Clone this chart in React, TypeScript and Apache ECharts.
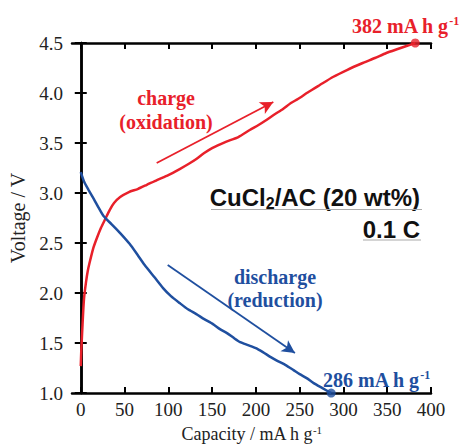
import React, { useEffect, useRef } from "react";
import * as echarts from "echarts";

// ---- data ----
const CHARGE_CAP = [0, 0.5, 1, 2, 3, 4, 6, 8, 10, 14, 18, 23, 28, 33, 38, 45, 55, 65, 75, 87, 100, 113, 123, 132, 141, 150, 165, 180, 193, 203, 212, 222, 231, 240, 248, 260, 273, 288, 304, 322, 336, 349, 362, 372, 382];
const CHARGE_V = [1.27, 1.4, 1.5, 1.68, 1.85, 1.97, 2.11, 2.22, 2.3, 2.44, 2.54, 2.65, 2.74, 2.83, 2.9, 2.96, 3.01, 3.04, 3.08, 3.13, 3.18, 3.24, 3.29, 3.34, 3.4, 3.45, 3.51, 3.56, 3.63, 3.68, 3.73, 3.79, 3.84, 3.9, 3.94, 4.01, 4.08, 4.16, 4.23, 4.3, 4.35, 4.4, 4.44, 4.47, 4.5];
const DISCHARGE_CAP = [0, 4, 9, 15, 20, 26, 35, 45, 56, 65, 73, 84, 94, 103, 113, 122, 132, 141, 151, 159, 167, 175, 182, 191, 200, 208, 217, 225, 234, 243, 250, 258, 266, 276, 286];
const DISCHARGE_V = [3.21, 3.11, 3.03, 2.94, 2.86, 2.77, 2.69, 2.6, 2.49, 2.38, 2.28, 2.16, 2.05, 1.97, 1.9, 1.84, 1.79, 1.74, 1.69, 1.64, 1.6, 1.55, 1.51, 1.48, 1.45, 1.41, 1.36, 1.32, 1.28, 1.23, 1.19, 1.15, 1.1, 1.05, 1.0];
const X_TICKS = [0, 50, 100, 150, 200, 250, 300, 350, 400];
const Y_TICKS = [1.0, 1.5, 2.0, 2.5, 3.0, 3.5, 4.0, 4.5];
const CHARGE_ARROW = [[86.7, 3.3], [219.9, 3.91]];
const DISCHARGE_ARROW = [[99.3, 2.28], [244.6, 1.4]];

const RED = "#e8202a";
const BLUE = "#1f4f9f";
const SERIF = "'Liberation Serif', 'Times New Roman', serif";
const SANS = "'Liberation Sans', Arial, sans-serif";

function capLabel(x: number, y: number, value: string, color: string) {
  return {
    type: "text", x, y,
    style: {
      text: `{a|${value}}{s|-1}`, align: "left", verticalAlign: "middle",
      rich: {
        a: { fontFamily: SERIF, fontSize: 20, fontWeight: "bold", fill: color, lineHeight: 22 },
        s: { fontFamily: SERIF, fontSize: 12, fontWeight: "bold", fill: color, lineHeight: 12, verticalAlign: "top" },
      },
    },
  };
}

function twoLine(x: number, y: number, l1: string, l2: string, color: string, lh: number) {
  return {
    type: "text", x, y,
    style: {
      text: `{a|${l1}}\n{a|${l2}}`, align: "center", verticalAlign: "middle",
      rich: { a: { fontFamily: SERIF, fontSize: 20, fontWeight: "bold", fill: color, lineHeight: lh, align: "center" } },
    },
  };
}

export default function App() {
  const ref = useRef<HTMLDivElement>(null);
  useEffect(() => {
    if (!ref.current) return;
    const chart = echarts.init(ref.current, undefined, { renderer: "svg" });
    const charge = CHARGE_CAP.map((c, i) => [c, CHARGE_V[i]]);
    const discharge = DISCHARGE_CAP.map((c, i) => [c, DISCHARGE_V[i]]);
    const lastC = charge[charge.length - 1];
    const lastD = discharge[discharge.length - 1];

    const axisLine = { show: true, lineStyle: { color: "#000", width: 2.5 } };
    const tick = { show: true, inside: true, length: 6, lineStyle: { color: "#000", width: 2 } };
    const tickLabel = { fontFamily: SERIF, fontSize: 19, color: "#222" };

    chart.setOption({
      animation: false,
      grid: { left: 72, right: 28, top: 43, bottom: 47, containLabel: false },
      xAxis: [
        {
          type: "value", min: -10, max: 400, position: "bottom",
          axisLine, splitLine: { show: false },
          axisTick: { ...tick, customValues: X_TICKS },
          axisLabel: { ...tickLabel, margin: 7, customValues: X_TICKS, formatter: (v: number) => String(v) },
          name: "{a|Capacity / mA h g}{s|-1}",
          nameLocation: "middle", nameGap: 28,
          nameTextStyle: {
            rich: {
              a: { fontFamily: SERIF, fontSize: 18, color: "#222", lineHeight: 20 },
              s: { fontFamily: SERIF, fontSize: 11, color: "#222", lineHeight: 11, verticalAlign: "top" },
            },
          },
        },
        {
          type: "value", min: -10, max: 400, position: "top",
          axisLine, splitLine: { show: false },
          axisTick: { ...tick, customValues: X_TICKS },
          axisLabel: { show: false },
        },
      ],
      yAxis: [
        {
          type: "value", min: 1, max: 4.5, interval: 0.5, position: "left",
          axisLine, splitLine: { show: false }, axisTick: tick,
          axisLabel: { ...tickLabel, margin: 9, formatter: (v: number) => v.toFixed(1), customValues: Y_TICKS },
          name: "Voltage / V", nameLocation: "middle", nameGap: 42,
          nameTextStyle: { fontFamily: SERIF, fontSize: 20, color: "#222" },
        },
        {
          type: "value", min: 1, max: 4.5, interval: 0.5, position: "right",
          axisLine, splitLine: { show: false }, axisTick: tick,
          axisLabel: { show: false },
        },
      ],
      series: [
        {
          type: "line", data: charge, showSymbol: false, smooth: 0.2,
          lineStyle: { color: RED, width: 2.5 }, itemStyle: { color: RED },
          markLine: {
            silent: true, symbol: ["none", "arrow"], symbolSize: [10, 13],
            label: { show: false },
            lineStyle: { color: RED, width: 1.8, type: "solid" },
            data: [[{ coord: CHARGE_ARROW[0] }, { coord: CHARGE_ARROW[1] }]],
          },
        },
        {
          type: "line", data: discharge, showSymbol: false, smooth: 0.2,
          lineStyle: { color: BLUE, width: 2.5 }, itemStyle: { color: BLUE },
          markLine: {
            silent: true, symbol: ["none", "arrow"], symbolSize: [10, 13],
            label: { show: false },
            lineStyle: { color: BLUE, width: 1.8, type: "solid" },
            data: [[{ coord: DISCHARGE_ARROW[0] }, { coord: DISCHARGE_ARROW[1] }]],
          },
        },
        { type: "scatter", data: [lastC], symbolSize: 9, itemStyle: { color: RED } },
        { type: "scatter", data: [lastD], symbolSize: 9, itemStyle: { color: BLUE } },
      ],
      graphic: [
        capLabel(352, 26, "382 mA h g", RED),
        capLabel(323, 380, "286 mA h g", BLUE),
        twoLine(166, 109.5, "charge", "(oxidation)", RED, 24),
        twoLine(275, 288.5, "discharge", "(reduction)", BLUE, 23.5),
        {
          type: "text", x: 420, y: 197.7,
          style: {
            text: "{b|CuCl}{sub|2}{b|/AC (20 wt%)}", align: "right", verticalAlign: "middle",
            rich: {
              b: { fontFamily: SANS, fontSize: 24, fontWeight: "bold", fill: "#111", lineHeight: 28 },
              sub: { fontFamily: SANS, fontSize: 16, fontWeight: "bold", fill: "#111", lineHeight: 16, verticalAlign: "bottom" },
            },
          },
        },
        {
          type: "text", x: 420, y: 229,
          style: {
            text: "{b|0.1 C}", align: "right", verticalAlign: "middle",
            rich: { b: { fontFamily: SANS, fontSize: 24, fontWeight: "bold", fill: "#111", lineHeight: 28 } },
          },
        },
        { type: "line", shape: { x1: 211, y1: 209.5, x2: 422, y2: 209.5 }, style: { stroke: "#aaa", lineWidth: 1 } },
        { type: "line", shape: { x1: 363, y1: 240, x2: 421, y2: 240 }, style: { stroke: "#aaa", lineWidth: 1 } },
      ],
    });
    return () => chart.dispose();
  }, []);
  return <div ref={ref} style={{ width: 459, height: 448, position: "absolute", left: 0, top: 0 }} />;
}
